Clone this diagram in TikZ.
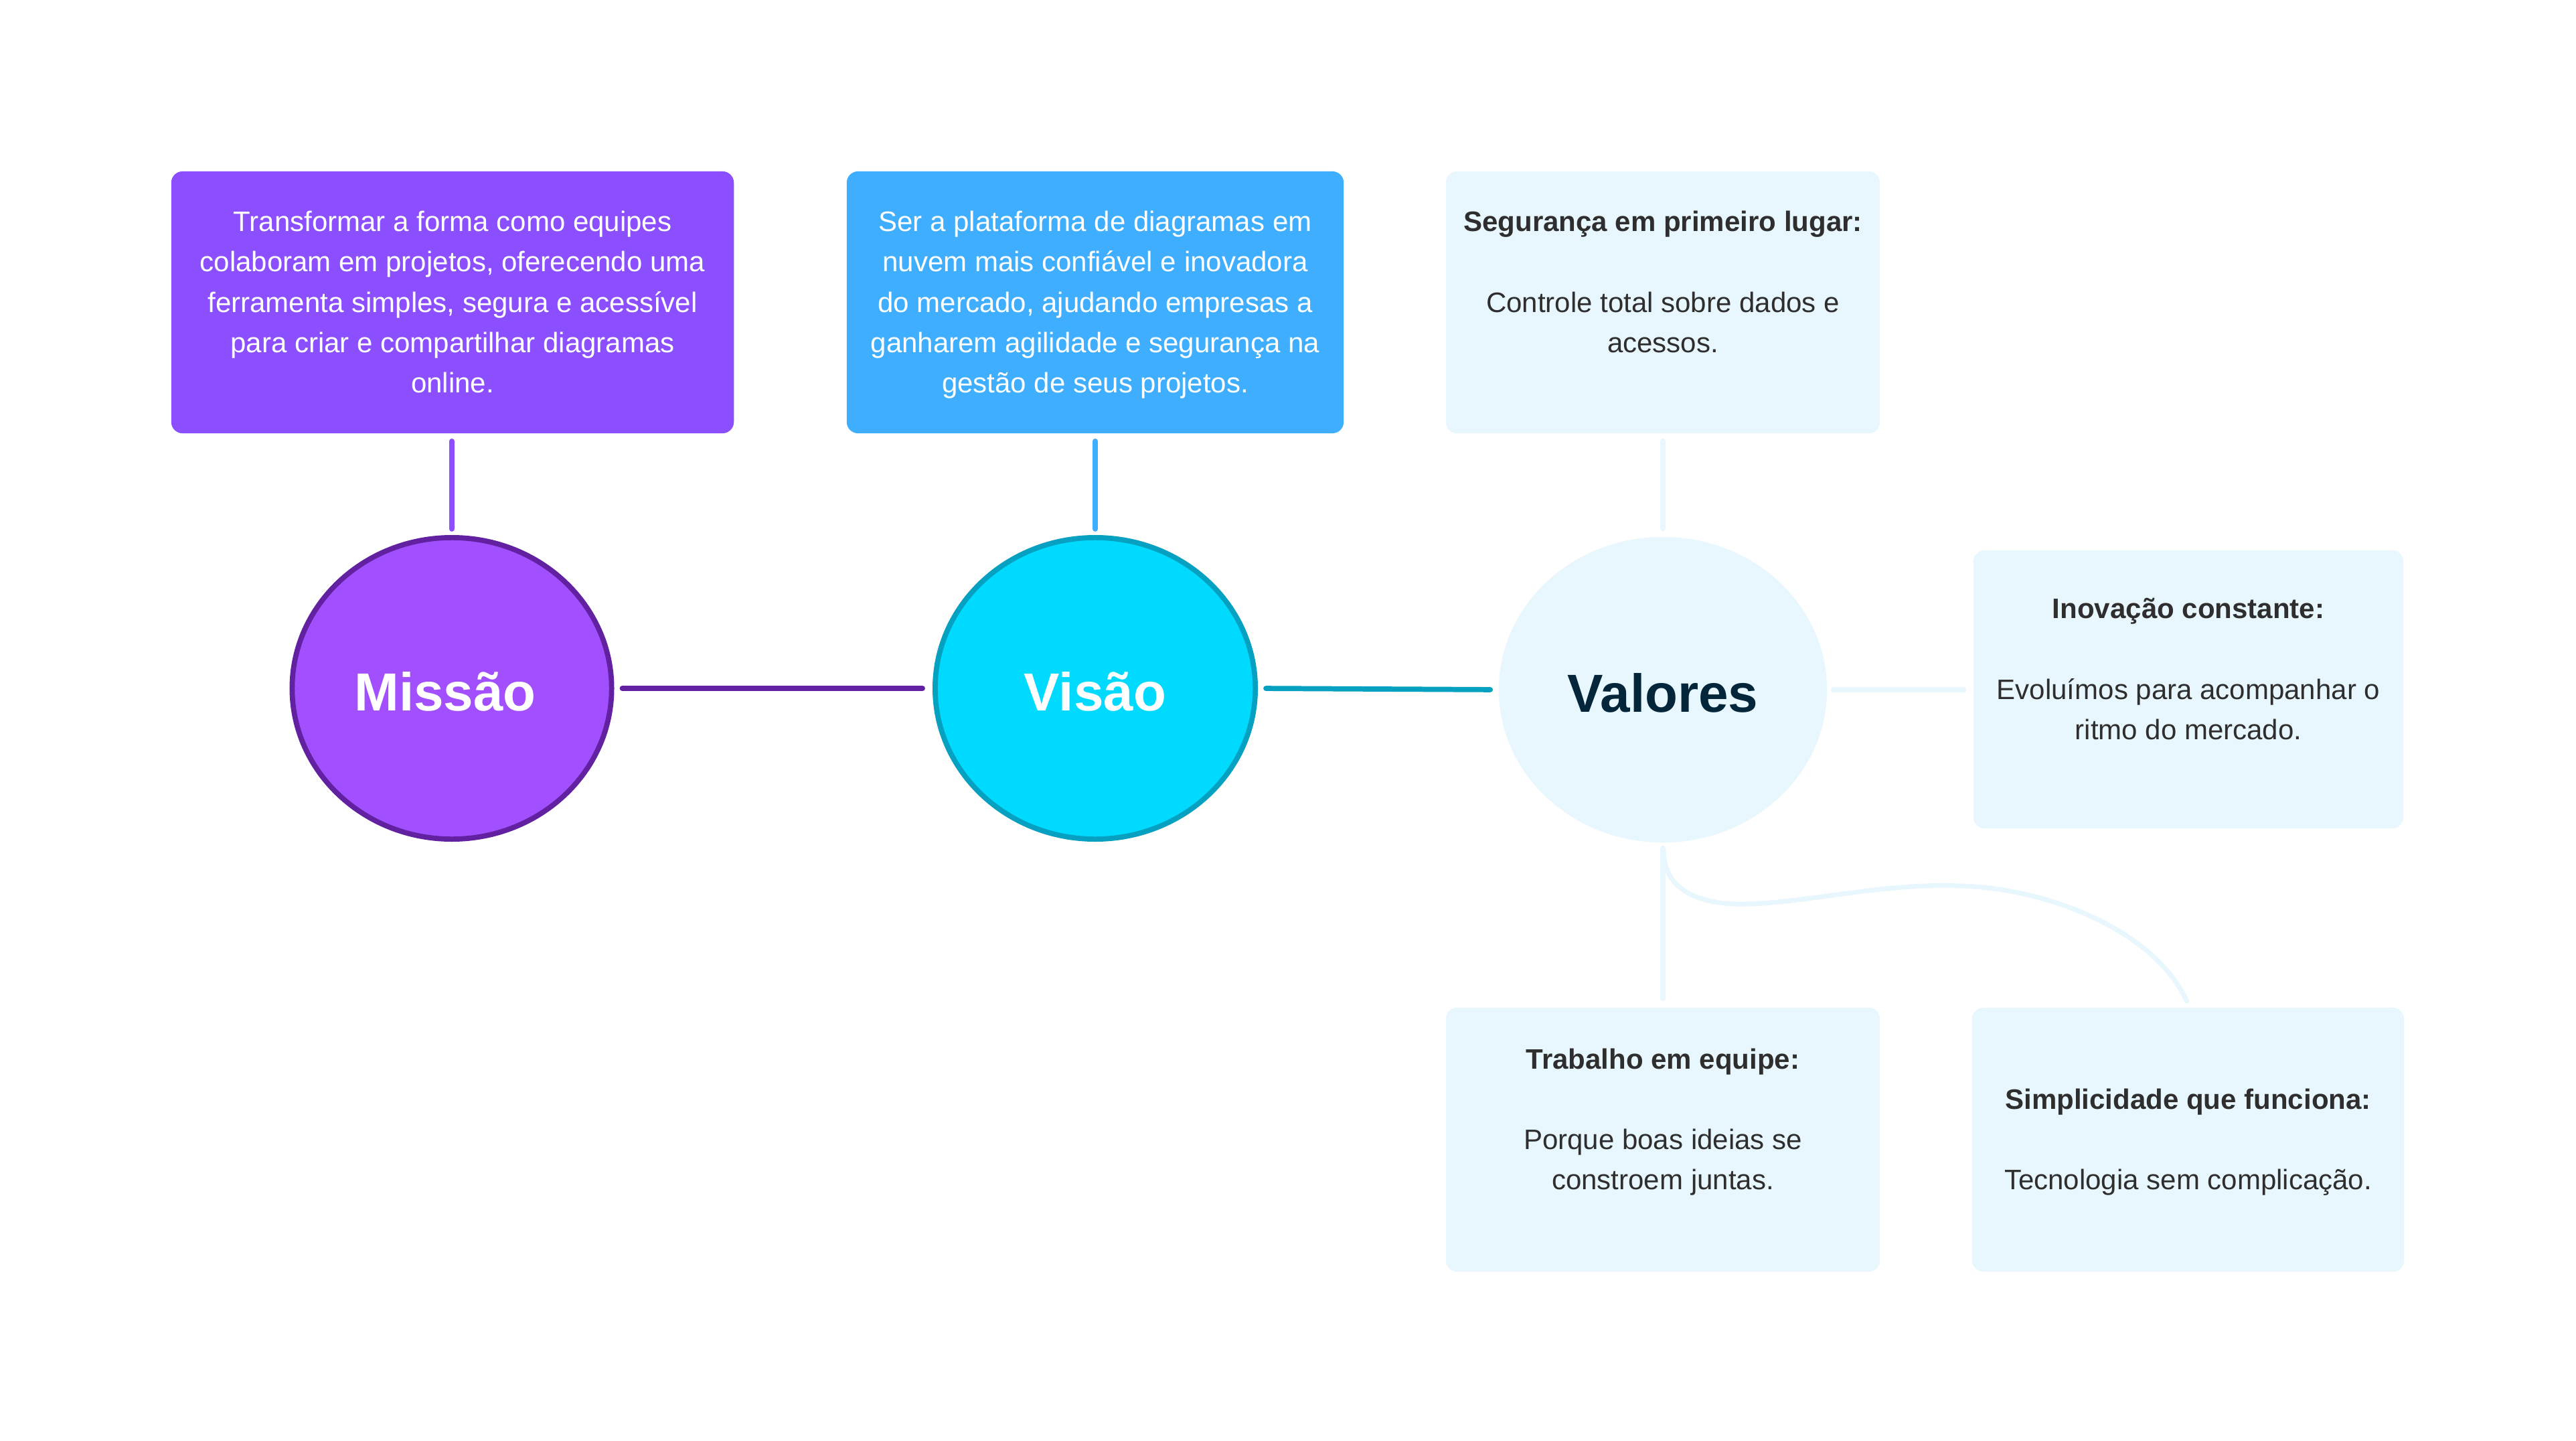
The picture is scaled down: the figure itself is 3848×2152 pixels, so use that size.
\documentclass[tikz,border=0pt]{standalone}
\usepackage{fontspec}
\setmainfont{Liberation Sans}
\usetikzlibrary{calc,shapes.geometric}

\definecolor{misbox}{HTML}{8B4FFF}
\definecolor{visbox}{HTML}{3FAEFF}
\definecolor{valbg}{HTML}{E8F6FD}
\definecolor{misfill}{HTML}{A24FFF}
\definecolor{misline}{HTML}{6221A0}
\definecolor{visfill}{HTML}{00DAFF}
\definecolor{visline}{HTML}{06A0C1}
\definecolor{valtext}{HTML}{04263A}
\definecolor{bodytext}{HTML}{2E2E2E}

% fixed-height line so every text block has a predictable line grid
\newcommand\lnstrut{\rule[-4.41pt]{0pt}{17.07pt}}

\begin{document}
\begin{tikzpicture}[x=0.01cm,y=-0.01cm,
  card/.style={rectangle, rounded corners=0.17cm, inner sep=0pt, draw=none},
  txt/.style={inner sep=0pt, align=center, font=\fontsize{11.95pt}{17.07pt}\selectfont},
  hub/.style={ellipse, inner sep=0pt, text height=0.66cm, text depth=0pt,
              font=\fontsize{22.76pt}{27pt}\selectfont\bfseries},
  link/.style={line width=2.2pt, line cap=round}]

\fill[white] (0,0) rectangle (3848,2152);
\useasboundingbox (0,0) rectangle (3848,2152);

% --- statement cards ---
\node[card, fill=misbox, minimum width=8.40cm, minimum height=3.91cm] (mbox) at (676,451.5) {};
\node[txt, text=white] (mtext) at (mbox.center)
  {\lnstrut Transformar a forma como equipes\\
   \lnstrut colaboram em projetos, oferecendo uma\\
   \lnstrut ferramenta simples, segura e acessível\\
   \lnstrut para criar e compartilhar diagramas\\
   \lnstrut online.};

\node[card, fill=visbox, minimum width=7.42cm, minimum height=3.91cm] (vbox) at (1636,451.5) {};
\node[txt, text=white] (vtext) at (vbox.center)
  {\lnstrut Ser a plataforma de diagramas em\\
   \lnstrut nuvem mais confiável e inovadora\\
   \lnstrut do mercado, ajudando empresas a\\
   \lnstrut ganharem agilidade e segurança na\\
   \lnstrut gestão de seus projetos.};

% --- value cards ---
\node[card, fill=valbg, minimum width=6.48cm, minimum height=3.91cm] (sbox) at (2484,451.5) {};
\node[txt, text=bodytext] (stext) at (sbox.center)
  {\lnstrut\textbf{Segurança em primeiro lugar:}\\
   \lnstrut\\
   \lnstrut Controle total sobre dados e\\
   \lnstrut acessos.\\
   \lnstrut};

\node[card, fill=valbg, minimum width=6.42cm, minimum height=4.15cm] (ibox) at (3269,1029.5) {};
\node[txt, text=bodytext] (itext) at (ibox.center)
  {\lnstrut\textbf{Inovação constante:}\\
   \lnstrut\\
   \lnstrut Evoluímos para acompanhar o\\
   \lnstrut ritmo do mercado.\\
   \lnstrut};

\node[card, fill=valbg, minimum width=6.48cm, minimum height=3.94cm] (tbox) at (2484,1702) {};
\node[txt, text=bodytext] (ttext) at (tbox.center)
  {\lnstrut\textbf{Trabalho em equipe:}\\
   \lnstrut\\
   \lnstrut Porque boas ideias se\\
   \lnstrut constroem juntas.\\
   \lnstrut};

\node[card, fill=valbg, minimum width=6.45cm, minimum height=3.94cm] (simbox) at (3268.5,1702) {};
\node[txt, text=bodytext] (simtext) at (simbox.center)
  {\lnstrut\\
   \lnstrut\textbf{Simplicidade que funciona:}\\
   \lnstrut\\
   \lnstrut Tecnologia sem complicação.\\
   \lnstrut};

% --- hubs ---
\node[hub, fill=misfill, draw=misline, line width=2.2pt, minimum width=4.77cm,
      minimum height=4.5cm, text=white] (mis) at (675,1028) {\hspace*{-0.2cm}Missão};
\node[hub, fill=visfill, draw=visline, line width=2.2pt, minimum width=4.78cm,
      minimum height=4.5cm, text=white] (vis) at (1636,1028) {Visão};
\node[hub, fill=valbg, minimum width=4.9cm, minimum height=4.56cm,
      text=valtext] (val) at (2484,1030) {Valores};

% --- connectors ---
\draw[link, misbox, shorten <=0.11cm, shorten >=0.09cm] (mis.north |- mbox.south) -- (mis.north);
\draw[link, visbox, shorten <=0.11cm, shorten >=0.09cm] (vis.north |- vbox.south) -- (vis.north);
\draw[link, misline, shorten <=0.12cm, shorten >=0.15cm] (mis.east) -- (vis.west);
\draw[link, visline, shorten <=0.12cm, shorten >=0.12cm] (vis.east) -- (val.west);

\draw[link, valbg, shorten <=0.12cm, shorten >=0.11cm] (val.north) -- (val.north |- sbox.south);
\draw[link, valbg, shorten <=0.09cm, shorten >=0.14cm] (val.east) -- (val.east -| ibox.west);
\draw[link, valbg, shorten <=0.08cm, shorten >=0.13cm] (val.south) -- (val.south |- tbox.north);
\draw[link, valbg, line width=2pt]
  ($(val.south)+(1,11)$) .. controls (2485,1330) and (2539,1352) .. (2610,1350)
  .. controls (2699,1348) and (2819,1318) .. (2927,1323)
  .. controls (3059,1326) and (3219,1390) .. ($(simbox.north)+(-2,-9)$);

\end{tikzpicture}
\end{document}
